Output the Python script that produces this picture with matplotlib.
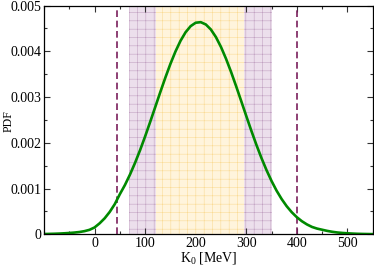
import matplotlib
matplotlib.use("Agg")
import matplotlib.pyplot as plt
from matplotlib.ticker import MultipleLocator, FixedLocator, FixedFormatter

# ---- data ----
k0 = [-100, -90, -80, -70, -60, -50, -40, -30, -20, -10,
      0, 10, 20, 30, 40, 50, 60, 70, 80, 90,
      100, 110, 120, 130, 140, 150, 160, 170, 180, 190,
      200, 210, 220, 230, 240, 250, 260, 270, 280, 290,
      300, 310, 320, 330, 340, 350, 360, 370, 380, 390,
      400, 410, 420, 430, 440, 450, 460, 470, 480, 490,
      500, 510, 520, 530, 540, 550]
pdf = [0.000006, 0.000009, 0.000012, 0.000016, 0.000022, 0.000029, 0.000038, 0.000050, 0.000069, 0.000098,
       0.00015, 0.00024, 0.00035, 0.00049, 0.00066, 0.000877, 0.001076, 0.001305, 0.001560, 0.001839,
       0.002140, 0.002457, 0.002782, 0.003108, 0.003425, 0.003725, 0.003996, 0.004230, 0.004417, 0.004550,
       0.004625, 0.004637, 0.004587, 0.004477, 0.004311, 0.004095, 0.003837, 0.003548, 0.003236, 0.002913,
       0.002586, 0.002265, 0.001957, 0.001669, 0.001404, 0.001165, 0.000953, 0.000770, 0.000613, 0.000482,
       0.000374, 0.000286, 0.000216, 0.000161, 0.000125, 0.000100, 0.000075, 0.000055, 0.000040, 0.000030,
       0.000022, 0.000016, 0.000011, 0.000008, 0.000006, 0.000004]

outer_band = (68, 351)
inner_band = (122, 296)
dashed_lines = [44, 400]

x_major = [0, 100, 200, 300, 400, 500]
x_labels = ["0", "100", "200", "300", "400", "500"]
y_major = [0, 0.001, 0.002, 0.003, 0.004, 0.005]
y_labels = ["0", "0.001", "0.002", "0.003", "0.004", "0.005"]

# ---- figure ----
plt.rcParams['font.family'] = ['Liberation Serif', 'DejaVu Serif']
plt.rcParams['mathtext.fontset'] = 'custom'
plt.rcParams['mathtext.rm'] = 'Liberation Serif'
plt.rcParams['mathtext.it'] = 'Liberation Serif:italic'
plt.rcParams['hatch.linewidth'] = 0.4

fig = plt.figure(figsize=(3.74, 2.65), dpi=100)
ax = fig.add_axes([0.1176, 0.1158, 0.8789, 0.8632])

ax.axvspan(*outer_band, facecolor='#ecdfec', edgecolor='#c2a2c2', hatch='++', linewidth=0, zorder=1)
ax.axvspan(*inner_band, facecolor='#fff4dc', edgecolor='#fadb96', hatch='++', linewidth=0, zorder=2)

for xv in dashed_lines:
    ax.axvline(xv, color='#7a1f5c', lw=1.2, dashes=(4, 2.2), zorder=3)

ax.plot(k0, pdf, color='#008a00', lw=1.9, zorder=4)

ax.set_xlim(-100, 550)
ax.set_ylim(0, 0.005)

ax.xaxis.set_major_locator(FixedLocator(x_major))
ax.xaxis.set_major_formatter(FixedFormatter(x_labels))
ax.xaxis.set_minor_locator(MultipleLocator(50))
ax.yaxis.set_major_locator(FixedLocator(y_major))
ax.yaxis.set_major_formatter(FixedFormatter(y_labels))
ax.yaxis.set_minor_locator(MultipleLocator(0.0005))

ax.tick_params(which='both', direction='in', top=True, right=True,
               labelsize=10, width=0.8, color='#333333', pad=2)
ax.tick_params(which='major', length=4.5)
ax.tick_params(which='minor', length=2.5)

for s in ax.spines.values():
    s.set_linewidth(0.9)
    s.set_zorder(5)

ax.set_xlabel('K$_0$ [MeV]', fontsize=10, labelpad=0)
fig.text(0.024, 0.545, 'PDF', rotation=90, ha='center', va='center', fontsize=8.5)

fig.savefig('out.png', dpi=100)
